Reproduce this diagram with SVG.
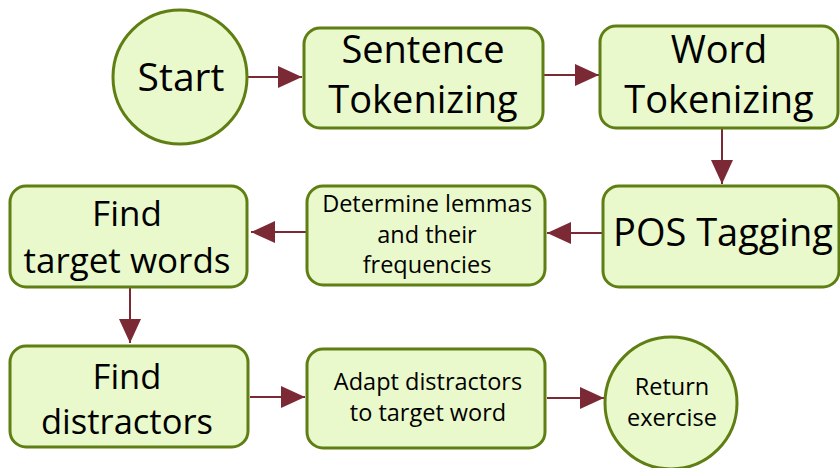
<svg xmlns="http://www.w3.org/2000/svg" width="840" height="468" viewBox="0 0 840 468">
<defs>
<style>
.n{fill:#e9f9cb;stroke:#5f7f14;stroke-width:3}
.t{font-family:"Open Sans","Noto Sans","DejaVu Sans",sans-serif;fill:#000;text-anchor:middle}
.c{stroke:#7b2a35;stroke-width:2;fill:none}
</style>
<marker id="ah" viewBox="0 0 24 22" refX="24" refY="11" markerWidth="24" markerHeight="22" orient="auto" markerUnits="userSpaceOnUse">
<path d="M0,0 L24,11 L0,22 z" fill="#7b2a35"/>
</marker>
</defs>
<g id="connectors">
<line class="c" x1="247" y1="77" x2="302" y2="77" marker-end="url(#ah)"/>
<line class="c" x1="544" y1="75" x2="599" y2="75" marker-end="url(#ah)"/>
<line class="c" x1="722" y1="129" x2="722" y2="184" marker-end="url(#ah)"/>
<line class="c" x1="602" y1="233" x2="547" y2="233" marker-end="url(#ah)"/>
<line class="c" x1="306" y1="232" x2="251" y2="232" marker-end="url(#ah)"/>
<line class="c" x1="130" y1="288" x2="130" y2="343" marker-end="url(#ah)"/>
<line class="c" x1="250" y1="397" x2="305" y2="397" marker-end="url(#ah)"/>
<line class="c" x1="547" y1="398" x2="604" y2="398" marker-end="url(#ah)"/>
</g>
<g id="start">
<circle class="n" cx="180" cy="77" r="67"/>
<text class="t" x="181" y="91" font-size="39">Start</text>
</g>
<g id="sentence">
<rect class="n" x="304" y="28" width="239" height="100" rx="16"/>
<text class="t" x="423" y="63" font-size="38">Sentence</text>
<text class="t" x="423" y="113" font-size="38">Tokenizing</text>
</g>
<g id="word">
<rect class="n" x="600" y="26" width="238" height="102" rx="16"/>
<text class="t" x="719" y="63" font-size="38">Word</text>
<text class="t" x="719" y="113" font-size="38">Tokenizing</text>
</g>
<g id="pos">
<rect class="n" x="603" y="186" width="236" height="101" rx="16"/>
<text class="t" x="723" y="246" font-size="38">POS Tagging</text>
</g>
<g id="lemmas">
<rect class="n" x="307" y="186" width="238" height="99" rx="16"/>
<text class="t" x="427" y="212" font-size="23.5">Determine lemmas</text>
<text class="t" x="427" y="243" font-size="23.5">and their</text>
<text class="t" x="427" y="273" font-size="23.5">frequencies</text>
</g>
<g id="target">
<rect class="n" x="10" y="186" width="237" height="101" rx="16"/>
<text class="t" x="127" y="226" font-size="35">Find</text>
<text class="t" x="127" y="273" font-size="35">target words</text>
</g>
<g id="distractors">
<rect class="n" x="10" y="346" width="238" height="101" rx="16"/>
<text class="t" x="127" y="389" font-size="34.5">Find</text>
<text class="t" x="127" y="434" font-size="34.5">distractors</text>
</g>
<g id="adapt">
<rect class="n" x="307" y="349" width="238" height="99" rx="16"/>
<text class="t" x="428" y="390" font-size="23.5">Adapt distractors</text>
<text class="t" x="428" y="421" font-size="23.5">to target word</text>
</g>
<g id="return">
<circle class="n" cx="671" cy="403" r="66"/>
<text class="t" x="672" y="395" font-size="23.5">Return</text>
<text class="t" x="672" y="426" font-size="23.5">exercise</text>
</g>
</svg>
